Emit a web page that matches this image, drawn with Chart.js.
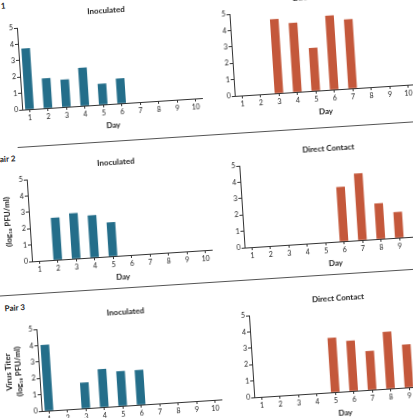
<!DOCTYPE html>
<html><head><meta charset="utf-8">
<script src="https://cdn.jsdelivr.net/npm/chart.js@4/dist/chart.umd.min.js"></script>
<style>
html,body{margin:0;padding:0;background:#fff;width:413px;height:418px;overflow:hidden;}
#fig{position:absolute;left:0;top:0;width:413px;height:418px;transform:rotate(-3.7deg);transform-origin:206.5px 209px;}
#fig canvas{position:absolute;}
.pair{position:absolute;font:bold 8px Lato, sans-serif;color:#222;text-align:right;width:40px;line-height:10px;left:-21px;}
.sep{position:absolute;height:0;border-top:1px solid #555;}
</style></head><body>
<div id="fig">
  <div class="pair" style="top:-11.7px">Pair 1</div>
  <div class="pair" style="top:140.6px">Pair 2</div>
  <div class="pair" style="top:289.7px">Pair 3</div>
  <div class="sep" style="left:22px;top:135px;width:430px"></div>
  <div class="sep" style="left:-30px;top:282px;width:480px"></div>
  <canvas id="p1a" width="223" height="129"></canvas>
  <canvas id="p1b" width="212" height="129"></canvas>
  <canvas id="p2a" width="223" height="129"></canvas>
  <canvas id="p2b" width="212" height="129"></canvas>
  <canvas id="p3a" width="223" height="129"></canvas>
  <canvas id="p3b" width="212" height="129"></canvas>
</div>
<script>
// ---- data (log10 PFU/ml), one value per day, null = no bar ----
const days = [1, 2, 3, 4, 5, 6, 7, 8, 9, 10];
const yTicks = [0, 1, 2, 3, 4, 5];
const pair1Inoculated    = [3.7, 1.8, 1.65, 2.3, 1.25, 1.5, null, null, null, null];
const pair1DirectContact = [null, null, 4.5, 4.2, 2.6, 4.5, 4.2, null, null, null];
const pair2Inoculated    = [null, 2.55, 2.75, 2.55, 2.05, null, null, null, null, null];
const pair2DirectContact = [null, null, null, null, null, 3.3, 4.05, 2.15, 1.55, null];
const pair3Inoculated    = [4.0, null, 1.55, 2.3, 2.1, 2.1, null, null, null, null];
const pair3DirectContact = [null, null, null, null, 3.3, 3.05, 2.35, 3.45, 2.6, null];
const titleInoculated = 'Inoculated';
const titleContact = 'Direct Contact';
const xTitle = 'Day';
const yTitleShort = '(log₁₀ PFU/ml)';
const yTitleLong = ['Virus Titer', '(log₁₀ PFU/ml)'];

const BLUE = '#246e8a';
const RUST = '#c4583b';
const AX = '#333';
const TXT = '#222';

function panel(id, left, top, yWidth, title, values, color, yTitle, yTitlePad) {
  const cv = document.getElementById(id);
  cv.style.left = left + 'px';
  cv.style.top = top + 'px';
  const pts = [];
  days.forEach((d, i) => { if (values[i] !== null) pts.push({x: d, y: values[i]}); });
  new Chart(cv, {
    type: 'bar',
    data: {datasets: [{data: pts, backgroundColor: color, borderWidth: 0, barThickness: 8}]},
    options: {
      responsive: false, animation: false, devicePixelRatio: 1,
      layout: {padding: {left: 0, right: 2, top: 0, bottom: 0}},
      plugins: {
        legend: {display: false}, tooltip: {enabled: false},
        title: {display: true, text: title, color: TXT, fullSize: false,
                font: {family: 'Lato', size: 8, weight: 'bold'}, padding: {top: 4, bottom: 6.4}}
      },
      scales: {
        x: {
          type: 'linear', min: 0.6, max: 10.35, offset: false,
          afterBuildTicks: s => { s.ticks = days.map(v => ({value: v})); },
          afterFit: s => { s.height = 27; },
          grid: {display: true, offset: false, drawOnChartArea: false, drawTicks: true, tickLength: 3, color: AX, lineWidth: 1},
          border: {display: true, color: AX, width: 1},
          ticks: {color: TXT, font: {family: 'Lato', size: 7}, padding: 1.5, maxRotation: 0, autoSkip: false},
          title: {display: true, text: xTitle, color: TXT, font: {family: 'Lato', size: 8, weight: 'bold'}, padding: {top: 0, bottom: 0.7}}
        },
        y: {
          min: 0, max: 5,
          afterBuildTicks: s => { s.ticks = yTicks.map(v => ({value: v})); },
          afterFit: s => { s.width = yWidth; },
          grid: {display: true, drawOnChartArea: false, drawTicks: true, tickLength: 3, color: AX, lineWidth: 1},
          border: {display: true, color: AX, width: 1},
          ticks: {color: TXT, font: {family: 'Lato', size: 7}, padding: 1},
          title: yTitle ? {display: true, text: yTitle, color: TXT, font: {family: 'Lato', size: 8, weight: 'bold'}, padding: {top: yTitlePad, bottom: 0}} : {display: false}
        }
      }
    }
  });
}

panel('p1a', -12, -4, 41, titleInoculated, pair1Inoculated, BLUE, yTitleShort, 9.5);
panel('p1b', 212, -4, 30, titleContact, pair1DirectContact, RUST, null, 0);
panel('p2a', -12, 147.5, 41, titleInoculated, pair2Inoculated, BLUE, yTitleShort, 14.7);
panel('p2b', 212, 147.5, 30, titleContact, pair2DirectContact, RUST, null, 0);
panel('p3a', -12, 297.5, 41, titleInoculated, pair3Inoculated, BLUE, yTitleLong, 5.7);
panel('p3b', 212, 297.5, 30, titleContact, pair3DirectContact, RUST, null, 0);
</script>
</body></html>
